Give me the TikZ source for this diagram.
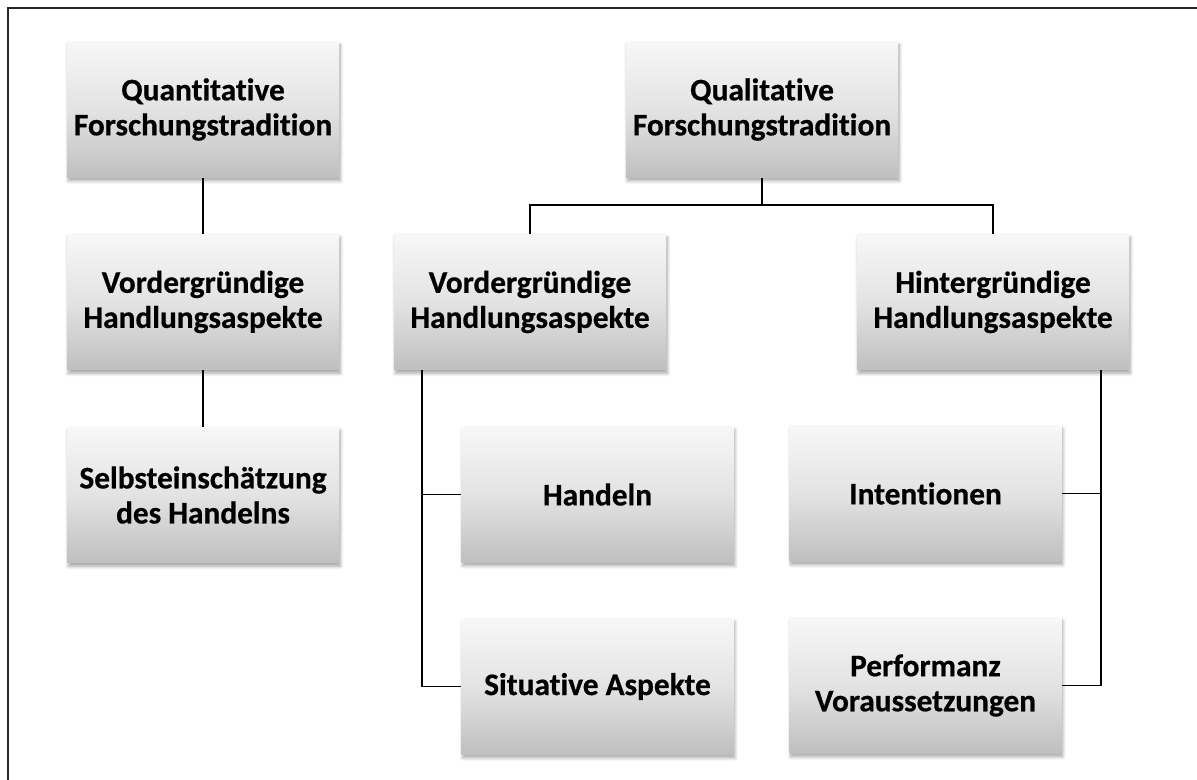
\documentclass[tikz,border=0pt]{standalone}
\usepackage{fontspec}
\setmainfont{Carlito}[Ligatures=NoCommon, BoldFeatures={FakeBold=0.6}]
\usetikzlibrary{shadows.blur}
\begin{document}
\begin{tikzpicture}[x=0.75pt,y=-0.75pt,
  box/.style={rectangle, minimum width=204pt, minimum height=102pt, inner sep=2pt,
    align=center, font=\fontsize{23.5}{26.3}\selectfont\bfseries,
    top color=black!3, bottom color=black!25, middle color=black!11,
    blur shadow={shadow xshift=1pt, shadow yshift=-2.5pt, shadow blur steps=6, shadow opacity=35, shadow blur radius=2.5pt}},
  link/.style={draw=black, line width=1.4pt}]
  \useasboundingbox (0,0) rectangle (1197,780);
  \begin{scope}
    \clip (0,0) rectangle (1197,780);
    \draw[line width=1.6pt, black!85] (8,8) rectangle (1230,820);
  \end{scope}

  % left column: quantitative tradition
  \node[box] (q1) at (203,109.5) {Quantitative\\Forschungstradition};
  \node[box] (v1) at (203,302) {Vordergründige\\Handlungsaspekte};
  \node[box] (s1) at (203,495) {Selbsteinschätzung\\des Handelns};

  % right part: qualitative tradition
  \node[box] (q2) at (762,109.5) {Qualitative\\Forschungstradition};
  \node[box] (v2) at (530,302) {Vordergründige\\Handlungsaspekte};
  \node[box] (h2) at (993,302) {Hintergründige\\Handlungsaspekte};
  \node[box] (ha) at (597.5,494.5) {Handeln};
  \node[box] (si) at (597.5,686.5) {Situative Aspekte};
  \node[box] (in) at (925.5,493.5) {Intentionen};
  \node[box] (pe) at (925.5,685.5) {Performanz\\Voraussetzungen};

  \coordinate (qj) at (762,205);

  \draw[link] (q1.south) -- (v1.north);
  \draw[link] (v1.south) -- (s1.north);

  \draw[link] (q2.south) -- (qj) -| (v2.north);
  \draw[link] (qj) -| (h2.north);

  \draw[link] ([xshift=21pt]v2.south west) |- (ha.west);
  \draw[link] ([xshift=21pt]v2.south west) |- (si.west);
  \draw[link] ([xshift=-21pt]h2.south east) |- (in.east);
  \draw[link] ([xshift=-21pt]h2.south east) |- (pe.east);
\end{tikzpicture}
\end{document}
